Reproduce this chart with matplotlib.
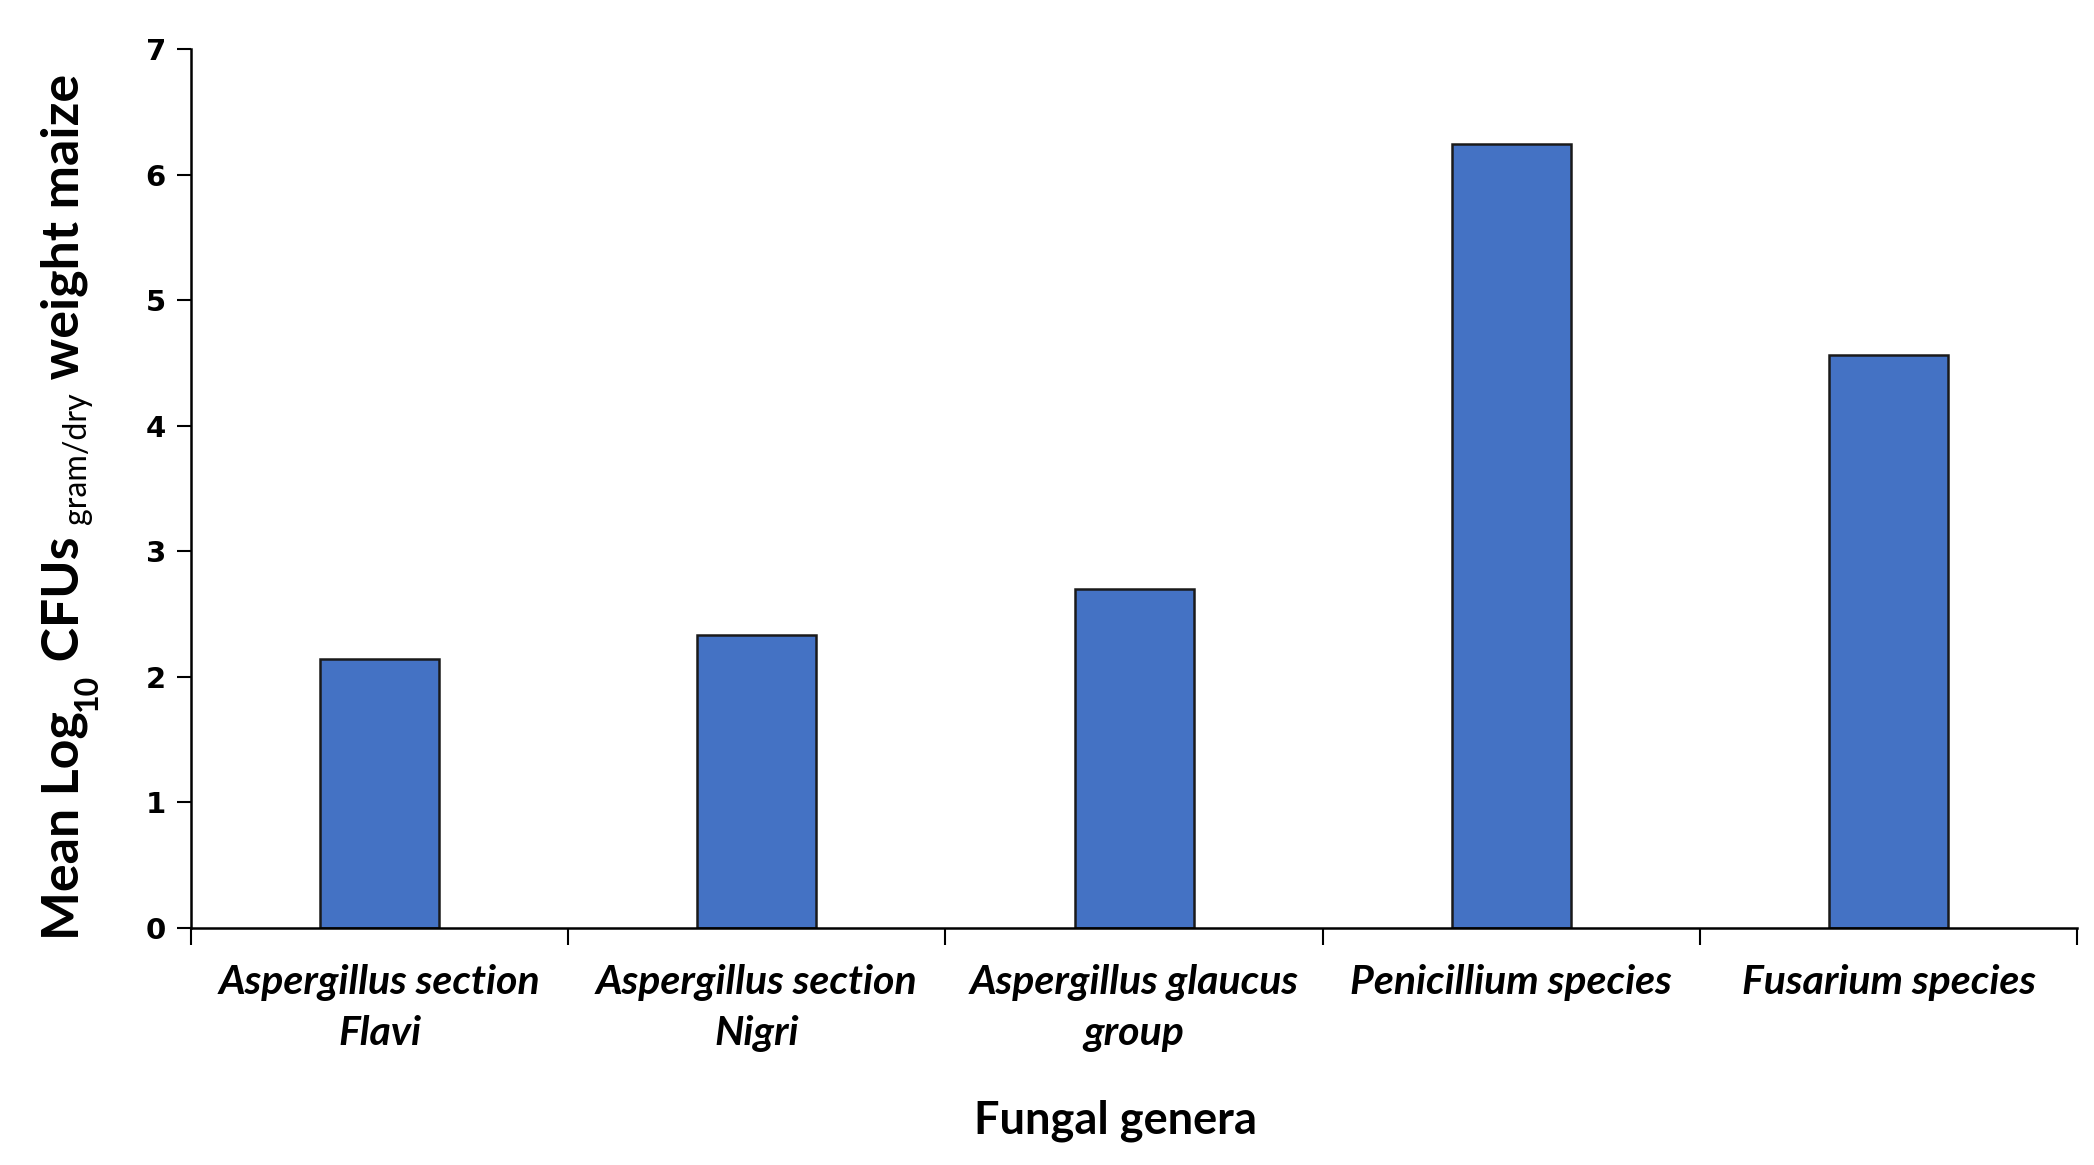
import numpy as np
import matplotlib.pyplot as plt
from matplotlib.ticker import FixedLocator

# data
genera = ['Aspergillus section\nFlavi', 'Aspergillus section\nNigri',
          'Aspergillus glaucus\ngroup', 'Penicillium species', 'Fusarium species']
mean_log_cfu = [2.14, 2.33, 2.70, 6.24, 4.56]
yticks = [0, 1, 2, 3, 4, 5, 6, 7]

fig = plt.figure(figsize=(20.94, 11.65), dpi=100)
ax = fig.add_axes([0.0912, 0.2034, 0.9008, 0.7546])

x = np.arange(len(genera))
ax.bar(x, mean_log_cfu, width=0.316, color='#4472C4', edgecolor='#1a1a1a',
       linewidth=1.8, zorder=2)

ax.set_xlim(-0.5, len(genera) - 0.5)
ax.set_ylim(0, 7)
ax.set_yticks(yticks)
ax.set_yticklabels([str(t) for t in yticks], fontfamily='DejaVu Sans',
                   fontweight='bold', fontsize=21)

# category labels at centres, tick marks at category boundaries
ax.set_xticks(x)
ax.set_xticklabels(genera, fontfamily='Lato', fontweight='bold', style='italic',
                   fontsize=29.5, linespacing=1.45)
ax.tick_params(axis='x', which='major', length=0, pad=26)
ax.xaxis.set_minor_locator(FixedLocator(np.arange(-0.5, len(genera), 1.0)))
ax.tick_params(axis='x', which='minor', length=12, width=1.5, direction='out')
ax.tick_params(axis='y', length=10, width=1.5, direction='out', pad=8)

for side in ['top', 'right']:
    ax.spines[side].set_visible(False)
for side in ['left', 'bottom']:
    ax.spines[side].set_linewidth(1.8)

fig.text(0.5325, 0.038, 'Fungal genera', ha='center', va='center',
         fontfamily='Lato', fontweight='bold', fontsize=32.5)

# y label built from pieces (mixed sizes), stacked bottom to top
pieces = [
    ('Mean Log', 1.0, 'bold', 0.0),
    ('10', 0.62, 'bold', 0.35),
    (' CFUs ', 1.0, 'bold', 0.0),
    ('gram/dry', 0.62, 'normal', 0.15),
    (' weight maize', 1.0, 'bold', 0.0),
]
base = 34
target_len = 868 / 1165      # label length as figure fraction
x_base = 0.0375              # baseline x of the main text
y_mid = 0.565


def draw_label(size):
    fig.canvas.draw()
    renderer = fig.canvas.get_renderer()
    texts = []
    ypos = 0.0
    for txt, rel, weight, drop in pieces:
        fs = size * rel
        # subscripts sit lower -> further right when rotated
        xoff = drop * size / 72 / fig.get_figwidth()
        t = fig.text(x_base + xoff, ypos, txt, rotation=90, ha='left',
                     va='baseline', rotation_mode='anchor',
                     fontfamily='Lato', fontweight=weight, fontsize=fs)
        bb = t.get_window_extent(renderer)
        ypos += bb.height / fig.bbox.height
        texts.append(t)
    return texts, ypos


texts, total = draw_label(base)
for t in texts:
    t.remove()
size = base * target_len / total
texts, total = draw_label(size)
y0 = y_mid - total / 2
for t in texts:
    px, py = t.get_position()
    t.set_position((px, py + y0))

fig.savefig('out.png', dpi=100)
